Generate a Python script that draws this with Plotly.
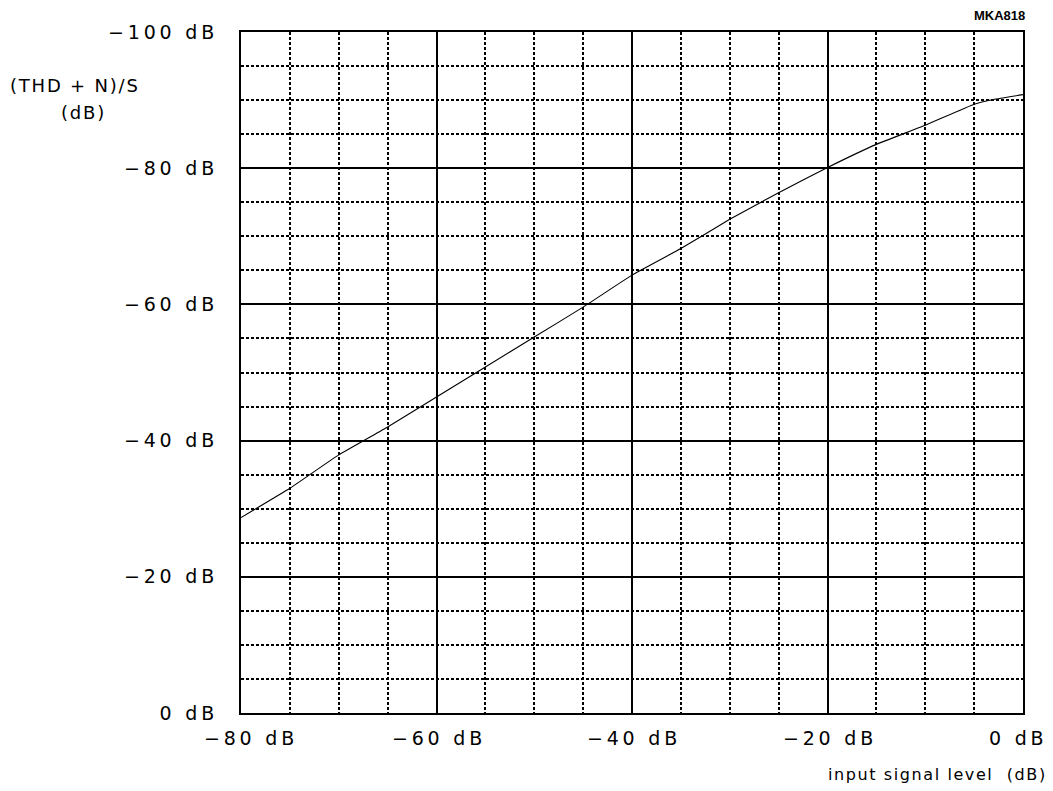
import plotly.graph_objects as go

# curve data
input_level_db = [-80, -75, -70, -65, -60, -55, -50, -45, -40, -35, -30, -25, -20, -15, -10, -5, -3, 0]
thdn_db = [-28.7, -33.0, -37.9, -42.0, -46.4, -50.8, -55.2, -59.6, -64.3, -68.2, -72.5, -76.4, -80.1, -83.5, -86.3, -89.4, -90.1, -90.8]

x_ticks = [-80, -60, -40, -20, 0]
x_ticktext = ["−80 dB", "−60 dB", "−40 dB", "−20 dB", "0 dB"]
y_ticks = [0, -20, -40, -60, -80, -100]
y_ticktext = ["0 dB", "−20 dB", "−40 dB", "−60 dB", "−80 dB", "−100 dB"]

FONT = "DejaVu Sans"


def spaced(s, gap="\u2009"):
    # mimic the wide letter spacing of the plotter font
    return gap.join(s)


fig = go.Figure()
fig.add_trace(go.Scatter(
    x=input_level_db, y=thdn_db, mode="lines",
    line=dict(color="black", width=1.1, shape="spline", smoothing=0.3),
    showlegend=False, hoverinfo="skip",
))

axis_common = dict(
    showline=True, linecolor="black", linewidth=2, mirror=True,
    showgrid=True, gridcolor="black", gridwidth=1.5,
    zeroline=False, ticks="",
    tickfont=dict(family=FONT, size=19, color="black"),
    minor=dict(dtick=5, showgrid=True, gridcolor="black", gridwidth=1.5, griddash="3px,2px", ticks=""),
)

fig.update_xaxes(range=[-80, 0], tickvals=x_ticks, showticklabels=False, **axis_common)
fig.update_yaxes(range=[0, -100], tickvals=y_ticks, ticktext=[spaced(t) for t in y_ticktext],
                 ticklabelstandoff=21, **axis_common)

# x tick labels as annotations so the end label stays inside the page
x_label_shift = {-80: 8, 0: -7}
for xv, lab in zip(x_ticks, x_ticktext):
    fig.add_annotation(xref="x", yref="paper", x=xv, y=0, xanchor="center", yanchor="top",
                       yshift=-12, xshift=x_label_shift.get(xv, 0),
                       text=spaced(lab), showarrow=False,
                       font=dict(family=FONT, size=19, color="black"))

fig.add_annotation(xref="paper", yref="paper", x=-0.213, y=0.94, xanchor="center", yanchor="top",
                   text=spaced("(THD + N)/S", "\u200a"), showarrow=False,
                   font=dict(family=FONT, size=18, color="black"))
fig.add_annotation(xref="paper", yref="paper", x=-0.203, y=0.90, xanchor="center", yanchor="top",
                   text=spaced("(dB)", "\u200a"), showarrow=False,
                   font=dict(family=FONT, size=18, color="black"))
fig.add_annotation(xref="paper", yref="paper", x=1.031, y=-0.073, xanchor="right", yanchor="top",
                   text=spaced("input signal level  (dB)", "\u200a"), showarrow=False,
                   font=dict(family=FONT, size=16, color="black"))
fig.add_annotation(xref="paper", yref="paper", x=1.005, y=1.01, xanchor="right", yanchor="bottom",
                   text="<b>MKA818</b>", showarrow=False,
                   font=dict(family="Liberation Sans", size=13, color="black"))

fig.update_layout(
    width=1045, height=783,
    margin=dict(l=233, r=30, t=24, b=78),
    paper_bgcolor="white", plot_bgcolor="white",
    showlegend=False,
)

fig.write_html("out.html")
